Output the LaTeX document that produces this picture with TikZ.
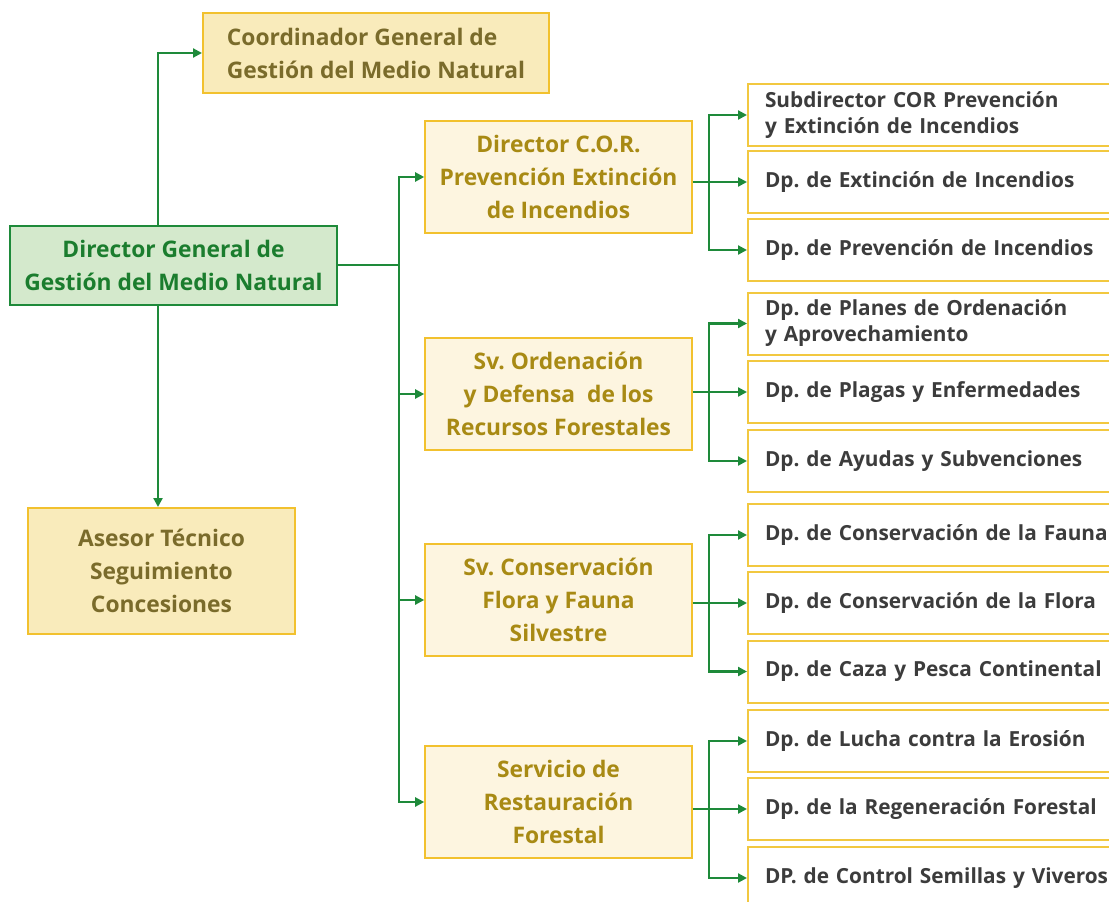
\documentclass[tikz,border=0pt]{standalone}
\usepackage{fontspec}
\setmainfont{Open Sans}
\usetikzlibrary{arrows.meta}
\definecolor{lgreen}{HTML}{1E8A3A}
\definecolor{dgfill}{HTML}{D4E9CC}
\definecolor{dgtext}{HTML}{1B7D2E}
\definecolor{cofill}{HTML}{F9EBBB}
\definecolor{coline}{HTML}{F2C12E}
\definecolor{cotext}{HTML}{7A6B2B}
\definecolor{mifill}{HTML}{FDF5E0}
\definecolor{mitext}{HTML}{A88A14}
\definecolor{rtline}{HTML}{F2C840}
\definecolor{rttext}{HTML}{3C3C3C}
\frenchspacing
\begin{document}
\begin{tikzpicture}[x=1pt,y=-1pt,
  bigfont/.style={font=\fontsize{22.8}{33}\selectfont\bfseries},
  smallfont/.style={font=\fontsize{20.8}{26}\selectfont\bfseries},
  dgbox/.style={draw=lgreen,line width=2pt,fill=dgfill,text=dgtext,bigfont,align=center,minimum width=327pt,minimum height=79pt,inner sep=0pt},
  cobox/.style={draw=coline,line width=2pt,fill=cofill,text=cotext,bigfont,inner sep=0pt},
  midbox/.style={draw=coline,line width=1.6pt,fill=mifill,text=mitext,bigfont,align=center,minimum width=267pt,minimum height=112pt,inner sep=0pt},
  rtbox/.style={draw=rtline,line width=2pt,fill=white,text=rttext,smallfont,align=left,text width=400pt,inner xsep=17pt,inner ysep=0pt,minimum height=62pt},
  conn/.style={draw=lgreen,line width=2.2pt},
  arr/.style={conn,-{Triangle[length=9pt,width=9pt]}}
]
\clip (0,0) rectangle (1109,902);
\fill[white] (0,0) rectangle (1109,902);
% top-left
\node[cobox,align=left,minimum width=346pt,minimum height=80pt] (coord) at (376,53) {Coordinador General de\\Gestión del Medio Natural};
\node[dgbox] (dg) at (173.5,265) {Director General de\\Gestión del Medio Natural};
\node[cobox,align=center,minimum width=267pt,minimum height=126pt] (ases) at (161.5,571) {Asesor Técnico\\Seguimiento\\Concesiones};
% middle column
\node[midbox] (m1) at (558.5,177) {Director C.O.R.\\Prevención Extinción\\de Incendios};
\node[midbox] (m2) at (558.5,394) {Sv. Ordenación\\y Defensa\ \ de los\\Recursos Forestales};
\node[midbox] (m3) at (558.5,600) {Sv. Conservación\\Flora y Fauna\\Silvestre};
\node[midbox] (m4) at (558.5,802) {Servicio de\\Restauración\\Forestal};
% right column
\node[rtbox,anchor=west] (r11) at (747,115) {Subdirector COR Prevención\\y Extinción de Incendios};
\node[rtbox,anchor=west] (r12) at (747,182) {Dp. de Extinción de Incendios};
\node[rtbox,anchor=west] (r13) at (747,250) {Dp. de Prevención de Incendios};
\node[rtbox,anchor=west] (r21) at (747,323.5) {Dp. de Planes de Ordenación\\y Aprovechamiento};
\node[rtbox,anchor=west] (r22) at (747,392) {Dp. de Plagas y Enfermedades};
\node[rtbox,anchor=west] (r23) at (747,461) {Dp. de Ayudas y Subvenciones};
\node[rtbox,anchor=west] (r31) at (747,535) {Dp. de Conservación de la Fauna};
\node[rtbox,anchor=west] (r32) at (747,603) {Dp. de Conservación de la Flora};
\node[rtbox,anchor=west] (r33) at (747,671.5) {Dp. de Caza y Pesca Continental};
\node[rtbox,anchor=west] (r41) at (747,741) {Dp. de Lucha contra la Erosión};
\node[rtbox,anchor=west] (r42) at (747,809) {Dp. de la Regeneración Forestal};
\node[rtbox,anchor=west] (r43) at (747,878) {DP. de Control Semillas y Viveros};
% connectors from director general
\coordinate (vx) at (158,0);
\coordinate (tr) at (399,265);
\draw[arr] (dg.north -| vx) |- (coord.west);
\draw[arr] (dg.south -| vx) -- (ases.north -| vx);
\draw[conn] (dg.east) -- (tr);
\foreach \m in {m1,m2,m3,m4}{\draw[arr] (tr) |- (\m.west);}
% forks
\foreach \g in {1,2,3,4}{
  \coordinate (f\g) at (709,0);
  \draw[conn] (m\g.east |- r\g2.west) -- (f\g |- r\g2.west);
  \draw[arr] (f\g |- r\g2.west) -- (r\g2.west);
  \draw[arr] (f\g |- r\g2.west) |- (r\g1.west);
  \draw[arr] (f\g |- r\g2.west) |- (r\g3.west);
}
\end{tikzpicture}
\end{document}
